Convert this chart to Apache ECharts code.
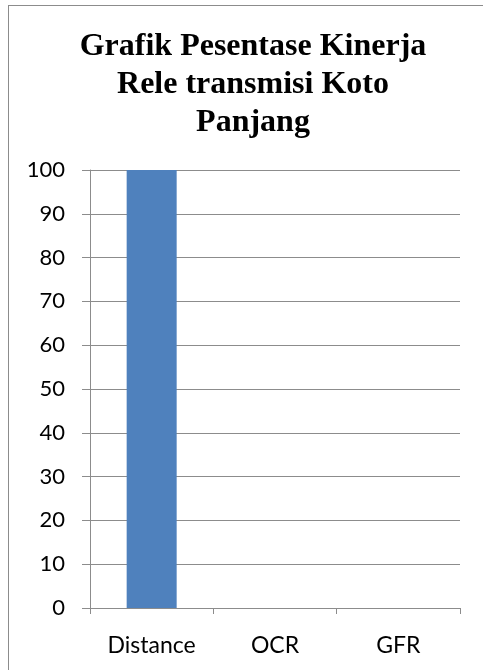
<!DOCTYPE html>
<html>
<head>
<meta charset="utf-8">
<script src="https://cdn.jsdelivr.net/npm/echarts@6/dist/echarts.min.js"></script>
<style>
  html, body { margin: 0; padding: 0; background: #fff; overflow: hidden; }
  #frame { position: absolute; left: 8px; top: 5px; width: 600px; height: 800px;
           border-left: 1px solid #8c8c8c; border-top: 1px solid #8c8c8c; }
  #chart { position: absolute; left: 0; top: 0; width: 483px; height: 670px; }
</style>
</head>
<body>
<div id="frame"></div>
<div id="chart"></div>
<script>
// data
const categories = ['Distance', 'OCR', 'GFR'];
const kinerja = [100, 0, 0];
const titleLines = ['Grafik Pesentase Kinerja', 'Rele transmisi Koto', 'Panjang'];

const chart = echarts.init(document.getElementById('chart'));

const option = {
  animation: false,
  title: {
    text: titleLines.join('\n'),
    left: 248,
    top: 23,
    textAlign: 'center',
    textStyle: {
      fontFamily: 'Liberation Serif',
      fontWeight: 'bold',
      fontSize: 32,
      lineHeight: 38,
      color: '#000'
    }
  },
  grid: {
    left: 90,
    right: 23,
    top: 170,
    bottom: 62
  },
  xAxis: {
    type: 'category',
    data: categories,
    axisLine: {lineStyle: {color: '#8c8c8c', width: 1}},
    axisTick: {show: true, length: 6, lineStyle: {color: '#8c8c8c'}},
    axisLabel: {
      margin: 26,
      fontFamily: 'Lato',
      fontSize: 23,
      color: '#000'
    }
  },
  yAxis: {
    type: 'value',
    min: 0,
    max: 100,
    interval: 10,
    axisLine: {show: true, lineStyle: {color: '#8c8c8c', width: 1}},
    axisTick: {show: true, length: 8, lineStyle: {color: '#8c8c8c'}},
    splitLine: {lineStyle: {color: '#8c8c8c', width: 1}},
    axisLabel: {
      margin: 25,
      fontFamily: 'Lato',
      fontSize: 22,
      color: '#000'
    }
  },
  series: [{
    name: 'Kinerja',
    type: 'bar',
    data: kinerja,
    barWidth: 50,
    itemStyle: {color: '#4f81bd'}
  }]
};

chart.setOption(option);
</script>
</body>
</html>
